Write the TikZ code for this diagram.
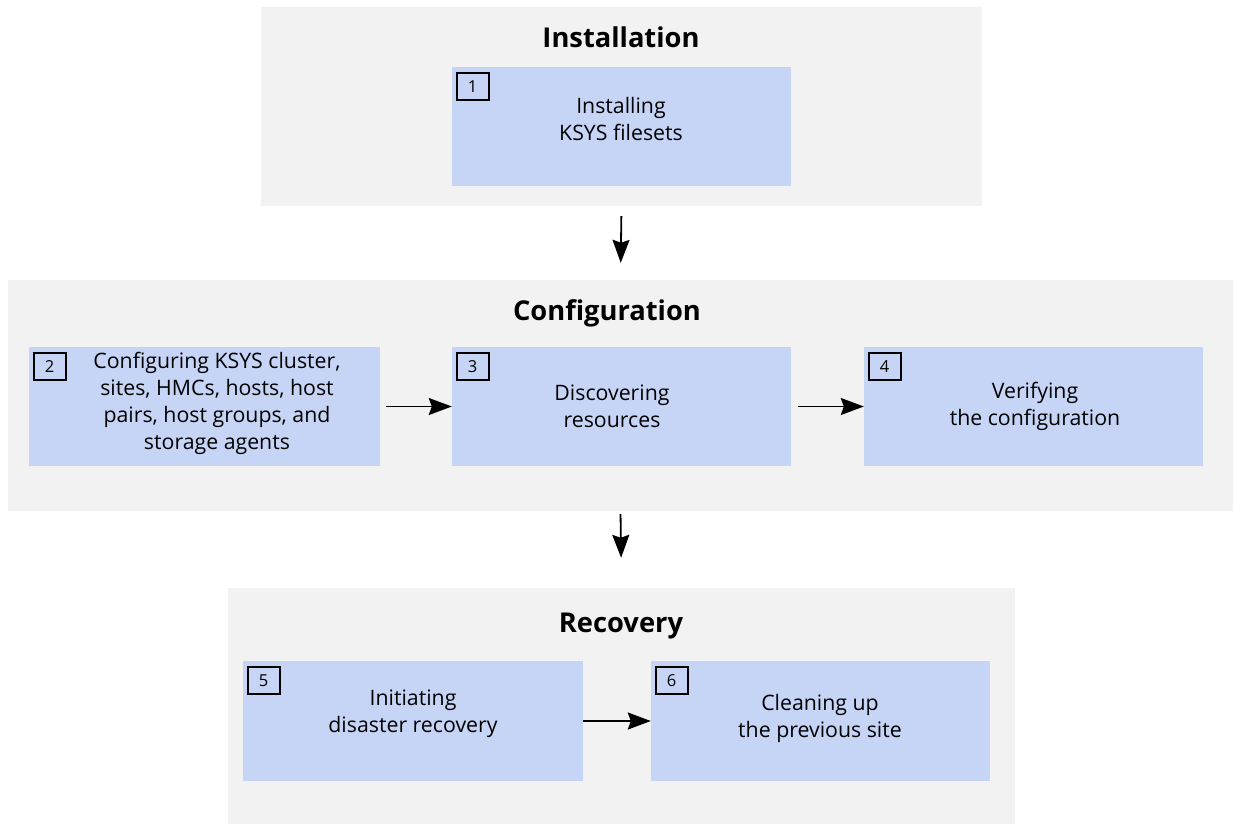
\documentclass[tikz,border=0pt]{standalone}
\usepackage{fontspec}
\setmainfont{Open Sans}
\usepackage{tikz}
\usetikzlibrary{positioning,arrows.meta,calc}
\usepackage{xcolor}
\definecolor{panelgray}{HTML}{F2F2F2}
\definecolor{stepblue}{HTML}{C6D4F6}

\begin{document}
\begin{tikzpicture}[x=1pt, y=1pt, >={Stealth[length=23pt,width=17pt,inset=3pt]}]
      \tikzset{
	  panel/.style={rectangle, fill=panelgray, inner sep=0pt},
	  stepbox/.style={rectangle, fill=stepblue, inner sep=0pt, minimum width=339pt, minimum height=119pt},
	  numbox/.style={rectangle, draw=black, line width=1.8pt, inner sep=0pt, minimum width=32pt, minimum height=27pt, font=\fontsize{16.5}{18}\selectfont},
	  steptext/.style={align=center, font=\fontsize{21.3}{27}\selectfont},
	  title/.style={font=\fontsize{27.3}{32}\selectfont\bfseries},
	  flow/.style={->, line width=1.8pt},
      }
      \useasboundingbox (0,0) rectangle (1233,-824);
      \fill[white] (0,0) rectangle (1233,-824);

      % phases
      \node (inst) at (621.5,-106.5) [panel, minimum width=721pt, minimum height=199pt] {};
      \node (conf) at (620.5,-395.5) [panel, minimum width=1225pt, minimum height=231pt] {};
      \node (reco) at (621.5,-706) [panel, minimum width=787pt, minimum height=236pt] {};

      \node (tinst) at (621,-37) [title] {Installation};
      \node (tconf) at (607,-313) [title] {Configuration};
      \node (treco) at (621,-626) [title] {Recovery};

      % steps
      \node (b1) at (621.5,-126.5) [stepbox] {};
      \node (b2) at (204.5,-406.5) [stepbox, minimum width=351pt] {};
      \node (b3) at (621.5,-406.5) [stepbox] {};
      \node (b4) at (1033.5,-406.5) [stepbox] {};
      \node (b5) at (413,-721) [stepbox, minimum width=340pt, minimum height=120pt] {};
      \node (b6) at (820.5,-721) [stepbox, minimum height=120pt] {};

      \foreach \b/\n in {b1/1, b2/2, b3/3, b4/4, b5/5, b6/6}
	\node (n\n) [numbox, anchor=north west] at ($(\b.north west)+(4,-5)$) {\n};

      \node (s1) at (621,-119) [steptext] {Installing\\KSYS filesets};
      \node (s2) at (217,-403.5) [steptext] {Configuring KSYS cluster,\\sites, HMCs, hosts, host\\pairs, host groups, and\\storage agents};
      \node (s3) at (612,-406.5) [steptext] {Discovering\\resources};
      \node (s4) at (1035,-406.5) [steptext] {Verifying\\the configuration};
      \node (s5) at (413,-714) [steptext] {Initiating\\disaster recovery};
      \node (s6) at (820,-718) [steptext] {Cleaning up\\the previous site};

      % flow
      \draw [flow, shorten <=10pt, shorten >=17pt] (inst.south) -- (conf.north);
      \draw [flow, shorten <=3pt, shorten >=30pt] (conf.south) -- (reco.north);
      \draw [flow, shorten <=6pt] (b2.east) -- (b3.west);
      \draw [flow, shorten <=7pt] (b3.east) -- (b4.west);
      \draw [flow] (b5.east) -- (b6.west);
    \end{tikzpicture}
\end{document}
